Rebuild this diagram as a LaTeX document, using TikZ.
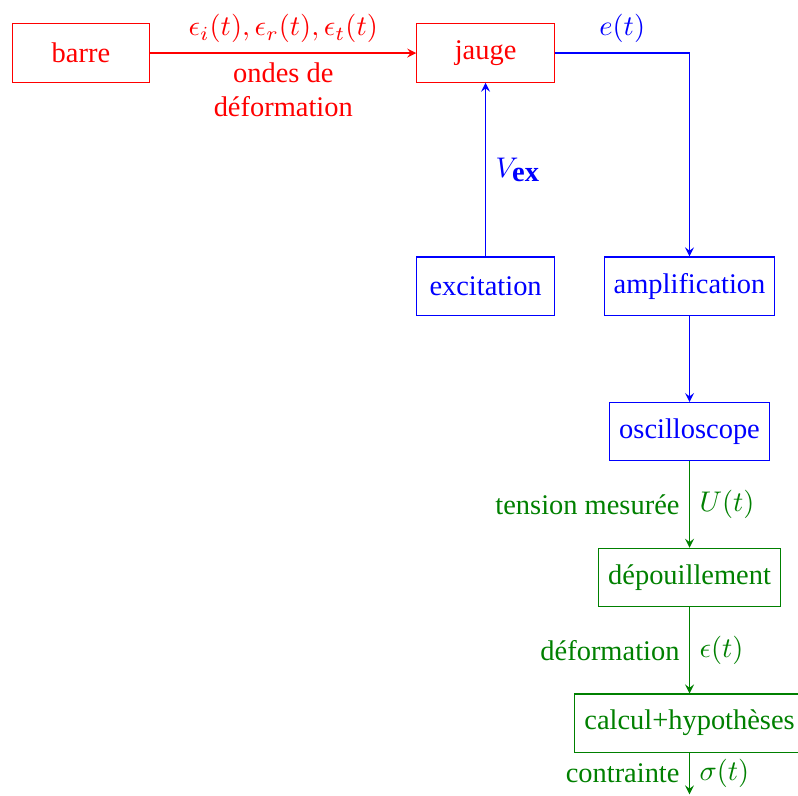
\documentclass[tikz,border=0pt]{standalone}
\usepackage{fontspec}
\setmainfont{Liberation Serif}
\usetikzlibrary{arrows}
\begin{document}
\begin{tikzpicture}
    [
    bloc/.style={rectangle,draw,inner sep=3.33pt,minimum height=7.2mm, minimum width=17mm},
    fleche/.style={-stealth}
    ]
    \useasboundingbox (-1.0,0.655) rectangle (8.86,-9.18);
    \node (barre) at (0,0) [bloc, red] {barre};
    \node (jauge) at (5,0) [bloc, red] {jauge};
    \node (excitation) at (5,-2.88) [bloc, blue] {excitation};
    \node (amplification) at (7.52,-2.88) [bloc, blue] {amplification};
    \node (oscilloscope) at (7.52,-4.68) [bloc, blue] {oscilloscope};
    \node (depouillement) at (7.52,-6.48) [bloc, green!50!black] {dépouillement};
    \node (calcul) at (7.52,-8.28) [bloc, green!50!black] {calcul+hypothèses};
    \coordinate (fin) at (7.52,-9.16);
    \draw [fleche, red] (barre) to node [above] {$\epsilon_i(t),\epsilon_r(t),\epsilon_t(t)$}
      node [below, align=center] {ondes de\\déformation} (jauge);
    \draw [fleche, blue] (jauge) -| node [pos=0.25, above] {$e(t)$} (amplification);
    \draw [fleche, blue] (excitation) to node [right] {$V_{\textbf{ex}}$} (jauge);
    \draw [fleche, blue] (amplification) to (oscilloscope);
    \draw [fleche, green!50!black] (oscilloscope) to node [left] {tension mesurée}
      node [right] {$U(t)$} (depouillement);
    \draw [fleche, green!50!black] (depouillement) to node [left] {déformation}
      node [right] {$\epsilon(t)$} (calcul);
    \draw [fleche, green!50!black] (calcul) to node [left] {contrainte}
      node [right] {$\sigma(t)$} (fin);
  \end{tikzpicture}
\end{document}
